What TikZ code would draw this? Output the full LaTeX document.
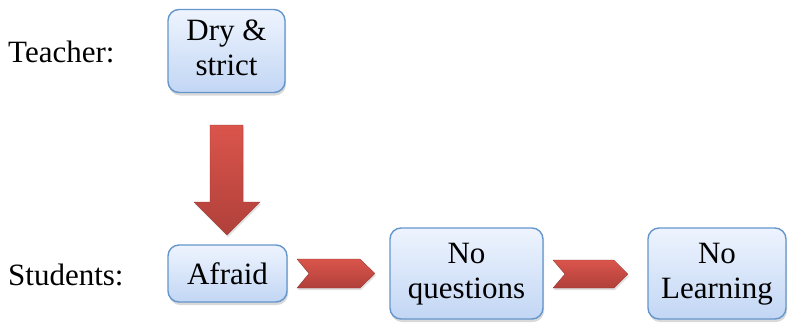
\documentclass[tikz,border=0pt]{standalone}
\usepackage{fontspec}
\setmainfont{Liberation Serif}
\usetikzlibrary{shadows}
\definecolor{boxtop}{HTML}{EEF4FE}
\definecolor{boxbot}{HTML}{C2D6F4}
\definecolor{boxline}{HTML}{6496CC}
\definecolor{arrtop}{HTML}{DA554C}
\definecolor{arrbot}{HTML}{B0403A}
% two centred lines of box text
\newcommand{\twolines}[2]{\begin{tabular}{@{}c@{}}#1\\#2\end{tabular}}
\begin{document}
\begin{tikzpicture}[x=1pt,y=-1pt,
  stepbox/.style={draw=boxline, line width=1.4pt, rounded corners=11pt,
    top color=boxtop, bottom color=boxbot, inner sep=0pt,
    drop shadow={shadow xshift=1pt, shadow yshift=-3pt, opacity=0.25, fill=black!60}},
  boxtext/.style={font=\fontsize{31}{35}\selectfont, inner sep=0pt},
  blockarrow/.style={draw=arrbot!80!black, line width=0.3pt, top color=arrtop, bottom color=arrbot,
    drop shadow={shadow xshift=1pt, shadow yshift=-2pt, opacity=0.2, fill=black!60}},
  rowlabel/.style={anchor=west, font=\fontsize{31}{35}\selectfont, inner sep=0pt}]
  \useasboundingbox (0,0) rectangle (788,322);

  % boxes
  \node[stepbox, minimum width=117pt, minimum height=83pt] (dry) at (226.5,51) {};
  \node[stepbox, minimum width=119pt, minimum height=57pt] (afraid) at (227.5,273.5) {};
  \node[stepbox, minimum width=153pt, minimum height=91pt] (noq) at (466.5,273.5) {};
  \node[stepbox, minimum width=138pt, minimum height=91pt] (nol) at (717,273.5) {};

  % thick down arrow from the teacher box to the students row
  \path[blockarrow]
    (210,125) -- (243,125) -- (243,202) -- (260,202) -- (227,235)
    -- (194,202) -- (210,202) -- cycle;

  % chevrons along the students row
  \path[blockarrow]
    (297,259) -- (360,259) -- (375,273.5) -- (360,288) -- (297,288) -- (309,273.5) -- cycle;
  \path[blockarrow]
    (553,260) -- (614,260) -- (628,274) -- (614,288) -- (553,288) -- (565,274) -- cycle;

  % texts, set on top of everything
  \node[rowlabel] (teacher) at (8,52) {Teacher:};
  \node[rowlabel] (students) at (8,275) {Students:};
  \node[boxtext] (drytext) at (dry.center) {\twolines{Dry \&}{strict}};
  \node[boxtext] (afraidtext) at (afraid.center) {Afraid};
  \node[boxtext] (noqtext) at (noq.center) {\twolines{No}{questions}};
  \node[boxtext] (noltext) at (nol.center) {\twolines{No}{Learning}};
\end{tikzpicture}
\end{document}
